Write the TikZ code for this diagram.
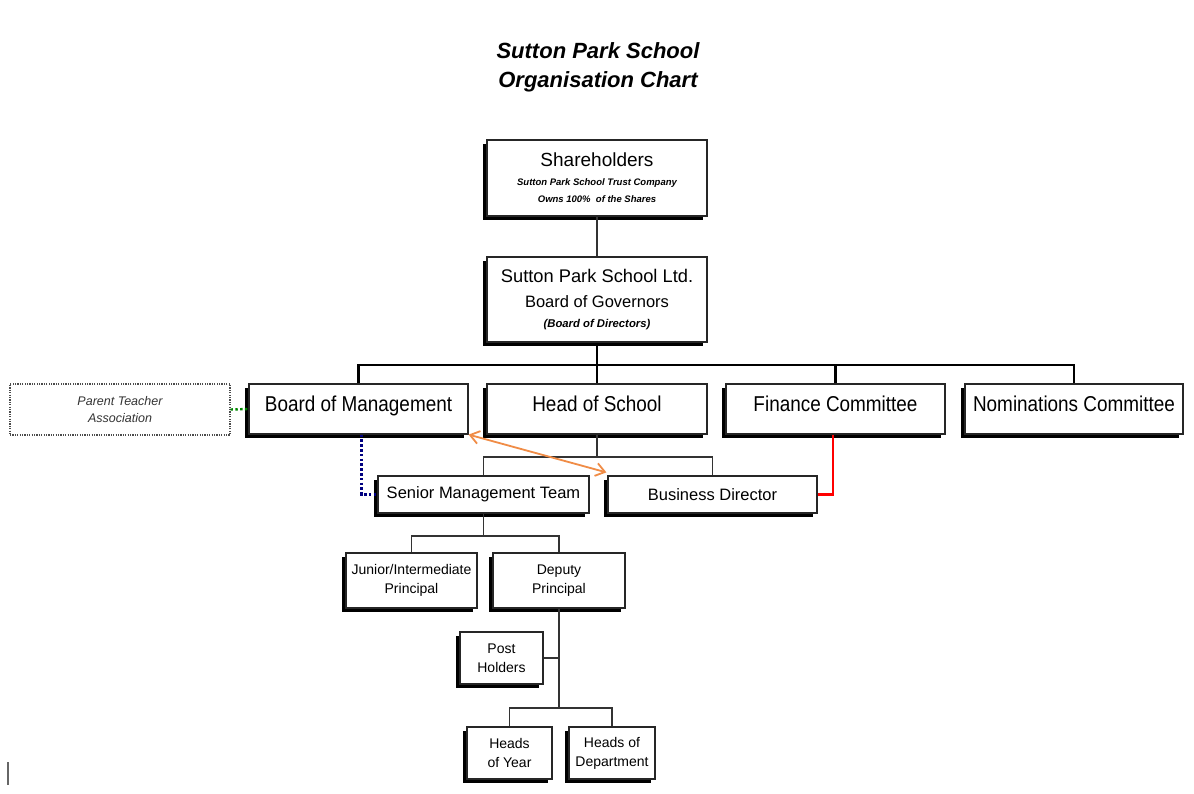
\documentclass[tikz,border=0pt]{standalone}
\usepackage{fontspec}
\setmainfont{Liberation Sans}
\newfontfamily\narrowsans[FakeStretch=0.88]{Liberation Sans}
\usetikzlibrary{shadows,arrows.meta}
\newcommand\myfs[2]{\fontsize{#1}{#2}\selectfont}
\definecolor{orgline}{RGB}{240,140,70}
\definecolor{navyline}{RGB}{0,0,128}
\definecolor{greenline}{RGB}{0,135,0}
\definecolor{redline}{RGB}{255,0,0}
\begin{document}
\begin{tikzpicture}[x=1pt,y=-1pt,
  box/.style={draw=black!85, line width=1.2pt, fill=white, inner sep=0pt, align=center,
    drop shadow={shadow xshift=-4pt, shadow yshift=-4pt, opacity=1, fill=black}},
  toptext/.style={font=\narrowsans\myfs{21.5}{24}, text height=15.5pt, text depth=10.1pt},
  lowtext/.style={font=\myfs{14}{19}},
  midtext/.style={font=\myfs{16.5}{20}},
  bus/.style={line width=2.6pt, black},
  conn/.style={line width=1.2pt, black!80},
  txt/.style={inner sep=0pt, align=center}]
\useasboundingbox[fill=white] (0,0) rectangle (1194,794);
% title
\node[txt, font=\myfs{22}{26}\bfseries\itshape] (t1) at (598,51) {Sutton Park School};
\node[txt, font=\myfs{22}{26}\bfseries\itshape] (t2) at (598,82) {Organisation Chart};
% boxes
\node[box, minimum width=220pt, minimum height=76pt] (sh) at (597,178) {};
\node[txt, font=\myfs{19}{22}] (sht1) at (597,160) {Shareholders};
\node[txt, font=\myfs{9.5}{12}\bfseries\itshape] (sht2) at (597,183) {Sutton Park School Trust Company};
\node[txt, font=\myfs{9.5}{12}\bfseries\itshape] (sht3) at (597,199) {Owns 100\%\ \ of the Shares};
\node[box, minimum width=220pt, minimum height=85pt] (gov) at (597,299.5) {};
\node[txt, font=\myfs{18.3}{22}] (govt1) at (597,276) {Sutton Park School Ltd.};
\node[txt, font=\myfs{16.5}{20}] (govt2) at (597,302) {Board of Governors};
\node[txt, font=\myfs{11.3}{14}\bfseries\itshape] (govt3) at (597,325) {(Board of Directors)};
\node[box, toptext, minimum width=219pt, minimum height=50pt] (bom) at (358.5,409) {Board of Management};
\node[box, toptext, minimum width=220pt, minimum height=50pt] (hos) at (597,409) {Head of School};
\node[box, toptext, minimum width=219pt, minimum height=50pt] (fin) at (835.5,409) {Finance Committee};
\node[box, toptext, minimum width=218pt, minimum height=50pt] (nom) at (1074,409) {Nominations Committee};
\node[draw=black!70, line width=1.1pt, dash pattern=on 1.2pt off 1.2pt, inner sep=0pt,
  minimum width=220pt, minimum height=51pt, align=center, text=black!80,
  font=\myfs{12.5}{17}\itshape] (pta) at (120,409.5) {Parent Teacher\\Association};
\node[box, midtext, minimum width=211pt, minimum height=37pt] (smt) at (483.5,494.5) {Senior Management Team};
\node[box, midtext, minimum width=209pt, minimum height=37pt] (bd) at (712.5,494.5) {Business Director};
\node[box, lowtext, minimum width=131pt, minimum height=55pt] (jun) at (411.5,580.5) {Junior/Intermediate\\Principal};
\node[box, lowtext, minimum width=132pt, minimum height=55pt] (dep) at (559,580.5) {Deputy\\Principal};
\node[box, lowtext, minimum width=83pt, minimum height=52pt] (ph) at (501.5,658) {Post\\Holders};
\node[box, lowtext, minimum width=85pt, minimum height=52pt] (hoy) at (509.5,753) {Heads\\of Year};
\node[box, lowtext, minimum width=86pt, minimum height=52pt] (hod) at (612,753) {Heads of\\Department};
% junction coordinates
\coordinate (busc) at (597,365);
\coordinate (hj) at (597,457);
\coordinate (sj) at (483.5,536);
\coordinate (dj) at (559,708);
% connectors
\draw[conn] (sh.south) -- (gov.north);
\draw[bus] (gov.south) -- (hos.north);
\draw[bus] (bom.north) |- (busc) -| (nom.north);
\draw[bus] (fin.north) -- (fin.north |- busc);
\draw[conn] (hos.south) -- (hj);
\draw[conn] (smt.north) |- (hj) -| (bd.north);
\draw[conn] (smt.south) -- (sj);
\draw[conn] (jun.north) |- (sj) -| (dep.north);
\draw[conn] (dep.south) -- (dj);
\draw[conn] (ph.east) -- (ph.east -| dep.south);
\draw[conn] (hoy.north) |- (dj) -| (hod.north);
\draw[greenline, line width=2.4pt, dash pattern=on 2.4pt off 2.4pt] (pta.east) -- (bom.west);
\draw[navyline, line width=2.6pt, dash pattern=on 2.6pt off 2.2pt] ([xshift=3pt]bom.south) |- (smt.west);
\draw[redline, line width=2.6pt] ([xshift=-2.5pt]fin.south) |- (bd.east);
\draw[orgline, line width=1.8pt, {Straight Barb[length=9pt,width=13pt]}-{Straight Barb[length=9pt,width=13pt]}]
  (bom.south east) -- ([xshift=-1pt,yshift=3pt]bd.north west);
% cursor mark
\draw[black!60, line width=1.6pt] (8,762) -- (8,785);
\end{tikzpicture}
\end{document}
